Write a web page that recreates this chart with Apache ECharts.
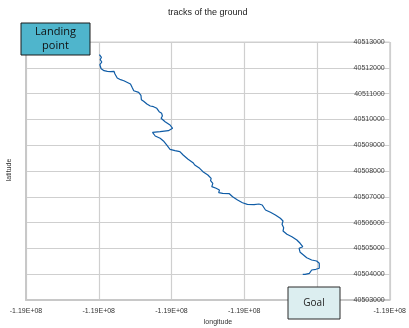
<!DOCTYPE html>
<html>
<head>
<meta charset="utf-8">
<style>html,body{margin:0;padding:0;background:#fff;}#c{width:409px;height:328px;}</style>
<script src="https://cdn.jsdelivr.net/npm/echarts@6/dist/echarts.min.js"></script>
</head>
<body>
<div id="c"></div>
<script>
var longitudes = [
-119003991,-119003963,-119003981,-119003958,-119003985,-119003995,-119003967,-119003927,-119003882,-119003836,
-119003791,-119003814,-119003777,-119003746,-119003700,-119003655,-119003632,-119003564,-119003542,-119003519,
-119003451,-119003420,-119003414,-119003383,-119003338,-119003292,-119003247,-119003202,-119003170,-119003135,
-119003125,-119003143,-119003088,-119003020,-119002985,-119003043,-119003156,-119003261,-119003279,-119003224,
-119003156,-119003111,-119003067,-119003020,-119002952,-119002885,-119002840,-119002772,-119002704,-119002681,
-119002613,-119002568,-119002500,-119002455,-119002463,-119002432,-119002446,-119002387,-119002341,-119002351,
-119002296,-119002205,-119002160,-119002092,-119002024,-119001957,-119001865,-119001798,-119001753,-119001739,
-119001708,-119001640,-119001572,-119001504,-119001467,-119001481,-119001458,-119001467,-119001413,-119001345,
-119001277,-119001232,-119001196,-119001246,-119001232,-119001186,-119001141,-119001073,-119001005,-119000969,
-119000969,-119001015,-119001073,-119001105,-119001164,-119001196
];
var latitudes = [
40512508,40512407,40512314,40512225,40512120,40512043,40511965,40511888,40511864,40511849,
40511864,40511799,40511760,40511605,40511539,40511500,40511438,40511372,40511244,40511112,
40511050,40510934,40510764,40510702,40510597,40510519,40510492,40510430,40510298,40510237,
40510132,40510043,40509911,40509783,40509655,40509562,40509523,40509500,40509423,40509357,
40509267,40509163,40509008,40508841,40508787,40508748,40508620,40508454,40508322,40508233,
40508105,40507973,40507845,40507717,40507624,40507523,40507392,40507330,40507264,40507159,
40507136,40507120,40507004,40506876,40506771,40506709,40506694,40506721,40506682,40506616,
40506488,40506399,40506295,40506167,40506062,40505934,40505802,40505674,40505547,40505454,
40505326,40505198,40505066,40505004,40504849,40504744,40504640,40504550,40504512,40504423,
40504229,40504190,40504163,40504035,40503996,40503996
];
var xMin = -119005000, xMax = -119000000, xStep = 1000;
var yMin = 40503000, yMax = 40513000, yStep = 1000;
var titleText = 'tracks of the ground';
var xName = 'longitude', yName = 'latitude';
var startLabel = 'Landing\npoint', endLabel = 'Goal';

var track = longitudes.map(function (x, i) { return [x, latitudes[i]]; });
function sci(v) {
  var s = Number(v).toExponential(2).toUpperCase();
  return s.replace(/E([+-])(\d)$/, 'E$10$2');
}
function plain(v) { return String(Math.round(v)); }
var chart = echarts.init(document.getElementById('c'), null, {renderer: 'canvas'});
chart.setOption({
  animation: false,
  backgroundColor: '#fff',
  grid: {left: 26, right: 15, top: 42, bottom: 28, show: true, borderColor: '#cfcfcf', borderWidth: 1},
  xAxis: {
    type: 'value', min: xMin, max: xMax, interval: xStep,
    axisLine: {show: true, onZero: false, lineStyle: {color: '#c8c8c8', width: 2}},
    axisTick: {show: false},
    axisLabel: {formatter: sci, fontSize: 7, color: '#333', margin: 8, fontFamily: 'Liberation Sans', showMinLabel: true, showMaxLabel: true},
    splitLine: {show: true, lineStyle: {color: '#cfcfcf', width: 1.2}}
  },
  yAxis: [{
    type: 'value', min: yMin, max: yMax, interval: yStep, position: 'left',
    axisLine: {show: true, onZero: false, lineStyle: {color: '#c8c8c8', width: 2}},
    axisTick: {show: false},
    axisLabel: {show: false},
    splitLine: {show: true, lineStyle: {color: '#cfcfcf', width: 1.2}}
  }, {
    type: 'value', min: yMin, max: yMax, interval: yStep, position: 'right',
    axisLine: {show: false}, axisTick: {show: false},
    axisLabel: {inside: true, formatter: plain, fontSize: 7, color: '#444', margin: 5, fontFamily: 'Liberation Sans', showMinLabel: true, showMaxLabel: true},
    splitLine: {show: false}
  }],
  series: [{
    type: 'line', data: track, yAxisIndex: 0, showSymbol: false, symbol: 'none',
    lineStyle: {color: '#0f5ca6', width: 1.2}, z: 5
  }],
  graphic: [
    {type: 'text', left: 168, top: 8, style: {text: titleText, fontSize: 9, fill: '#222', fontFamily: 'Liberation Sans'}},
    {type: 'text', x: 218, y: 322, style: {text: xName, fontSize: 7, fill: '#333', fontFamily: 'Liberation Sans', align: 'center', verticalAlign: 'middle'}},
    {type: 'text', x: 9, y: 170, rotation: Math.PI / 2, style: {text: yName, fontSize: 7, fill: '#333', fontFamily: 'Liberation Sans', align: 'center', verticalAlign: 'middle'}},
    {type: 'rect', z: 100, zlevel: 1, shape: {x: 21, y: 23, width: 69, height: 32}, style: {fill: '#4fb5cc', stroke: '#1a1a1a', lineWidth: 1}},
    {type: 'text', z: 101, zlevel: 1, x: 55.5, y: 39, style: {text: startLabel, fontSize: 11, lineHeight: 14, fill: '#111', fontFamily: 'Open Sans', align: 'center', verticalAlign: 'middle'}},
    {type: 'rect', z: 100, zlevel: 1, shape: {x: 288, y: 287, width: 52, height: 32}, style: {fill: '#dceef0', stroke: '#2a2a2a', lineWidth: 1}},
    {type: 'text', z: 101, zlevel: 1, x: 314, y: 303, style: {text: endLabel, fontSize: 10, fill: '#222', fontFamily: 'Open Sans', align: 'center', verticalAlign: 'middle'}}
  ]
});
</script>
</body>
</html>
